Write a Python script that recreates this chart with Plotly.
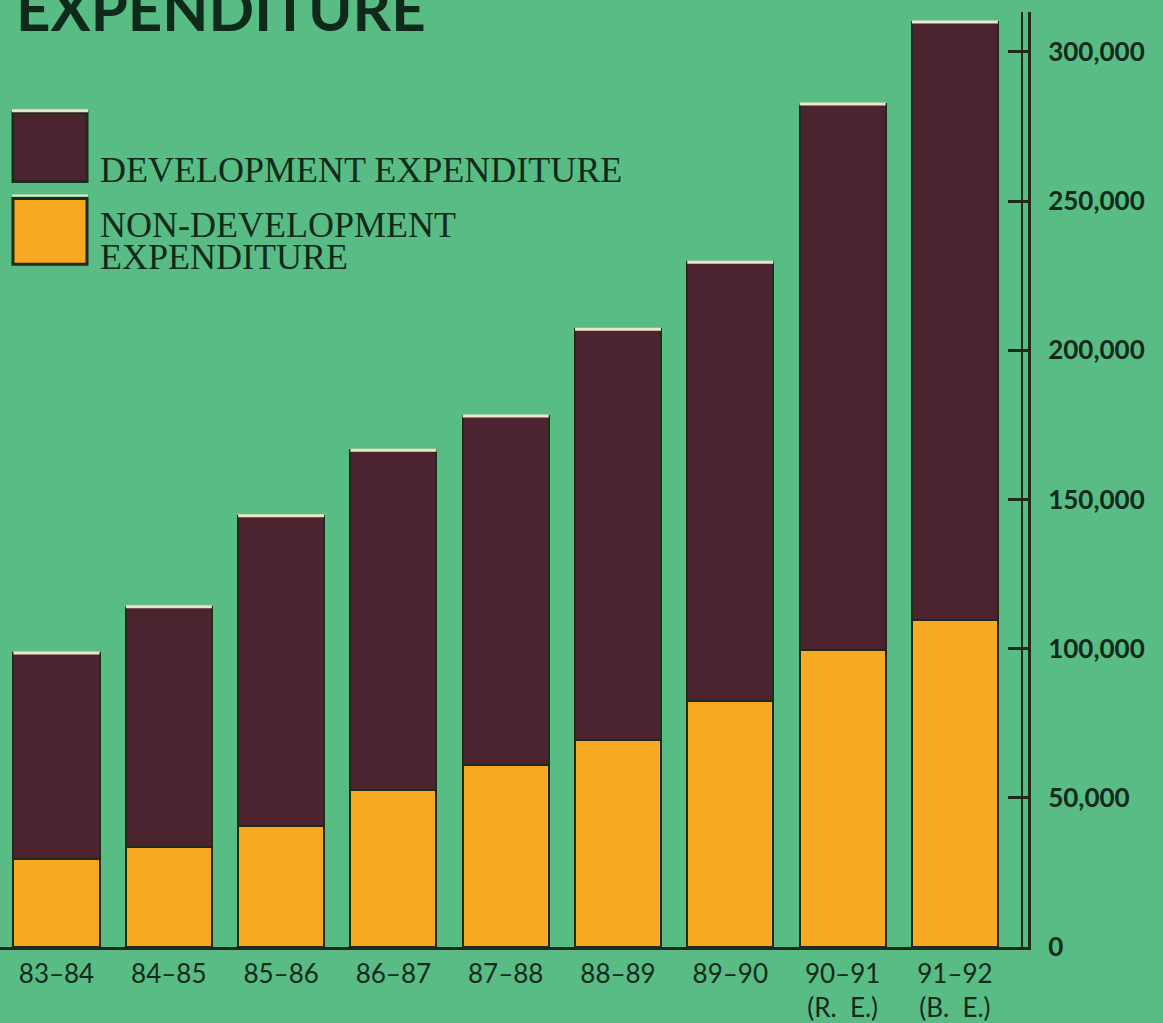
import plotly.graph_objects as go

# ---- data ----
years = ["83–84", "84–85", "85–86", "86–87", "87–88", "88–89", "89–90",
         "90–91<br>(R.  E.)", "91–92<br>(B.  E.)"]
non_development = [29500, 33500, 40500, 52500, 61000, 69500, 82500, 99500, 109500]
total_expenditure = [98500, 114000, 144500, 166500, 178000, 207000, 229500, 282500, 310000]
development = [t - n for t, n in zip(total_expenditure, non_development)]
y_tick_values = [0, 50000, 100000, 150000, 200000, 250000, 300000]
y_tick_labels = ["0", "50,000", "100,000", "150,000", "200,000", "250,000", "300,000"]

# ---- style ----
BG = "#59bc85"
MAROON = "#4b2430"
ORANGE = "#f8a922"
INK = "#0f2a1b"
EDGE = "#1f2a1a"
CREAM = "#ece6c6"
W = 1163
H = 1023
ML, MR, MT, MB = 0, 135, 12, 73
PW = W - ML - MR
PH = H - MT - MB
BAR_W = 0.766

def px_x(p):
    return (p - ML) / PW

def px_y(p):
    return (H - MB - p) / PH

fig = go.Figure()
fig.add_trace(go.Bar(x=list(range(len(years))), y=non_development, name="NON-DEVELOPMENT EXPENDITURE",
                     marker=dict(color=ORANGE, line=dict(color=EDGE, width=2)), width=BAR_W))
fig.add_trace(go.Bar(x=list(range(len(years))), y=development, name="DEVELOPMENT EXPENDITURE",
                     marker=dict(color=MAROON, line=dict(color=EDGE, width=2)), width=BAR_W))

shapes = []
# cream highlight at top of each bar (derived from data)
for i, t in enumerate(total_expenditure):
    shapes.append(dict(type="line", xref="x", yref="y", x0=i - BAR_W / 2, x1=i + BAR_W / 2,
                       y0=t, y1=t, line=dict(color=CREAM, width=3), layer="above"))

# second (inner) axis line on the right
shapes.append(dict(type="line", xref="paper", yref="paper", x0=px_x(1022), x1=px_x(1022),
                   y0=0, y1=1, line=dict(color=EDGE, width=2)))

# legend swatches
shapes.append(dict(type="rect", xref="paper", yref="paper", x0=px_x(13), x1=px_x(87),
                   y0=px_y(182), y1=px_y(113), fillcolor=MAROON, line=dict(color=EDGE, width=3)))
shapes.append(dict(type="line", xref="paper", yref="paper", x0=px_x(12), x1=px_x(88),
                   y0=px_y(111), y1=px_y(111), line=dict(color=CREAM, width=3)))
shapes.append(dict(type="rect", xref="paper", yref="paper", x0=px_x(13), x1=px_x(87),
                   y0=px_y(265), y1=px_y(199), fillcolor=ORANGE, line=dict(color=EDGE, width=3)))
shapes.append(dict(type="line", xref="paper", yref="paper", x0=px_x(12), x1=px_x(88),
                   y0=px_y(196), y1=px_y(196), line=dict(color=CREAM, width=2)))

serif = "Liberation Serif, Times New Roman, serif"
LEG_SIZE = 36
annotations = [
    dict(text="<b>EXPENDITURE</b>", xref="paper", yref="paper", x=px_x(14), y=px_y(46),
         xanchor="left", yanchor="bottom", showarrow=False,
         font=dict(family="Lato, Open Sans, sans-serif", size=60, color=INK)),
    dict(text="DEVELOPMENT EXPENDITURE", xref="paper", yref="paper", x=px_x(98), y=px_y(171),
         xanchor="left", yanchor="middle", showarrow=False, height=30,
         font=dict(family=serif, size=LEG_SIZE, color=INK)),
    dict(text="NON-DEVELOPMENT", xref="paper", yref="paper", x=px_x(98), y=px_y(226),
         xanchor="left", yanchor="middle", showarrow=False, height=30,
         font=dict(family=serif, size=LEG_SIZE, color=INK)),
    dict(text="EXPENDITURE", xref="paper", yref="paper", x=px_x(98), y=px_y(258),
         xanchor="left", yanchor="middle", showarrow=False, height=30,
         font=dict(family=serif, size=LEG_SIZE, color=INK)),
]

first_center = 56.5
spacing = 112.3
x_left = (ML - first_center) / spacing
x_right = (ML + PW - first_center) / spacing
y_top = 300000 * PH / (H - MB - 52)

fig.update_layout(
    width=W, height=H,
    margin=dict(l=ML, r=MR, t=MT, b=MB),
    paper_bgcolor=BG, plot_bgcolor=BG,
    barmode="stack", bargap=0,
    showlegend=False,
    shapes=shapes, annotations=annotations,
    xaxis=dict(range=[x_left, x_right], tickmode="array", tickvals=list(range(len(years))),
               ticktext=years, showgrid=False, zeroline=False, showline=True,
               linecolor=EDGE, linewidth=3, ticks="", ticklabelstandoff=2,
               tickfont=dict(family="Lato, Open Sans, sans-serif", size=26, color=INK)),
    yaxis=dict(range=[0, y_top], side="right", tickmode="array", tickvals=y_tick_values,
               ticktext=y_tick_labels, showgrid=False, zeroline=False, showline=True,
               linecolor=EDGE, linewidth=3, ticks="inside", ticklen=20, tickwidth=3,
               tickcolor=EDGE, ticklabelstandoff=12,
               tickfont=dict(family="Lato, Open Sans, sans-serif", size=26, color=INK,
                             weight="bold")),
)

fig.write_html("out.html", config={"displayModeBar": False},
               post_script="document.body.style.margin='0';"
                           "document.body.style.background='%s';" % BG)
